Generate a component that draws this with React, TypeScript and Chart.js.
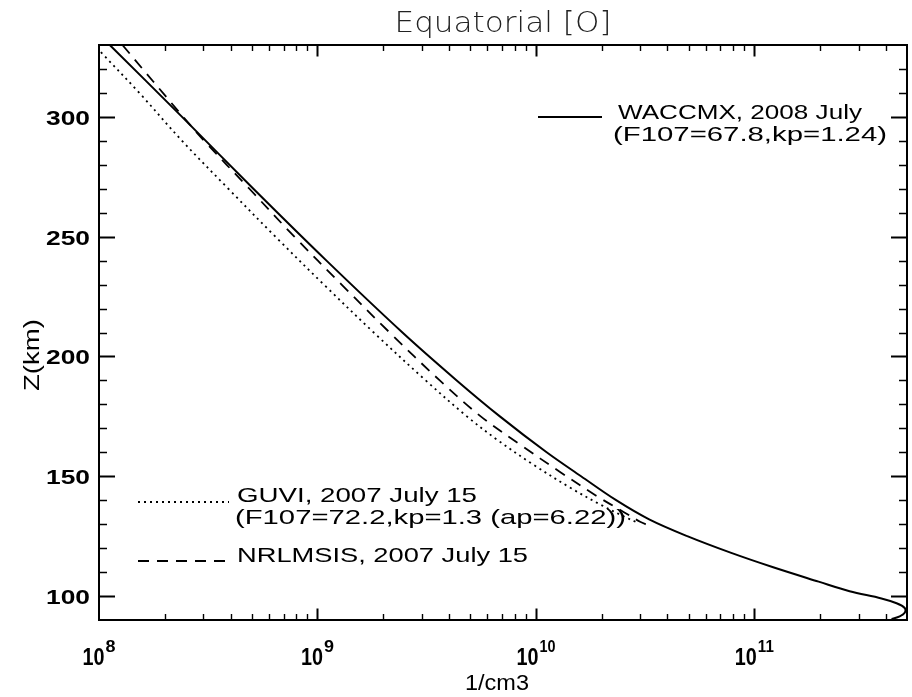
import React, { useEffect, useRef } from "react";
import { Chart, registerables } from "chart.js";

Chart.register(...registerables);

// ---- Data (altitude km, O density 1/cm3) ----
const waccmxAlt = [330, 300, 270, 240, 210, 190, 175, 160, 150, 140, 132, 125, 118, 112, 106, 102, 99, 97, 95, 93, 91.5, 90.4];
const waccmxDen = [1.12e8, 2.4e8, 5.09e8, 1.1e9, 2.45e9, 4.34e9, 6.84e9, 1.12e10, 1.61e10, 2.33e10, 3.3e10, 4.93e10, 7.84e10, 1.22e11, 1.97e11, 2.73e11, 3.82e11, 4.48e11, 4.88e11, 4.88e11, 4.63e11, 4.25e11];

const nrlmsisAlt = [330, 300, 290, 270, 250, 230, 210, 190, 175, 163, 152, 142, 135, 131, 129.5];
const nrlmsisDen = [1.28e8, 2.43e8, 3.03e8, 4.88e8, 7.84e8, 1.29e9, 2.14e9, 3.63e9, 5.59e9, 8.53e9, 1.28e10, 1.88e10, 2.53e10, 3.0e10, 3.27e10];

const guviAlt = [327, 310, 290, 270, 250, 230, 210, 190, 175, 165, 155, 145, 138, 133, 130.5];
const guviDen = [1.02e8, 1.53e8, 2.4e8, 3.91e8, 6.42e8, 1.07e9, 1.81e9, 3.13e9, 4.83e9, 6.7e9, 9.68e9, 1.45e10, 1.99e10, 2.56e10, 2.94e10];

const yMajorTicks = [100, 150, 200, 250, 300];
const xDecadeExponents = [8, 9, 10, 11];

const titleText = "Equatorial [O]";
const xTitle = "1/cm3";
const yTitle = "Z(km)";
const legendWaccmx = ["WACCMX, 2008 July", "(F107=67.8,kp=1.24)"];
const legendGuvi = ["GUVI, 2007 July 15", "(F107=72.2,kp=1.3 (ap=6.22))"];
const legendNrl = ["NRLMSIS, 2007 July 15"];

const toPoints = (alt: number[], den: number[]) => alt.map((z, i) => ({ x: den[i], y: z }));

function fitText(ctx: CanvasRenderingContext2D, text: string, x: number, y: number, w: number, font: string, align: "left" | "center" | "right" = "left") {
  ctx.save();
  ctx.font = font;
  const m = ctx.measureText(text).width;
  const s = w / m;
  ctx.translate(x, y);
  ctx.scale(s, 1);
  ctx.textAlign = align;
  ctx.textBaseline = "alphabetic";
  ctx.fillText(text, 0, 0);
  ctx.restore();
}

const framePlugin = {
  id: "idlFrame",
  afterDatasetsDraw(chart: any) {
    const ctx: CanvasRenderingContext2D = chart.ctx;
    const xs = chart.scales.x;
    const ys = chart.scales.y;
    const { left, right, top, bottom } = chart.chartArea;
    ctx.save();
    ctx.strokeStyle = "#000";
    ctx.fillStyle = "#000";
    ctx.setLineDash([]);
    ctx.lineWidth = 2;
    ctx.strokeRect(left, top, right - left, bottom - top);

    const xMaj = 11.5, xMin = 6, yMaj = 16, yMin = 8;
    for (const e of xDecadeExponents) {
      for (let k = 1; k <= 9; k++) {
        const v = k * Math.pow(10, e);
        if (v <= xs.min || v >= xs.max) continue;
        const px = Math.round(xs.getPixelForValue(v)) + 0.5;
        const len = k === 1 ? xMaj : xMin;
        ctx.lineWidth = k === 1 ? 2 : 1.4;
        ctx.beginPath();
        ctx.moveTo(px, bottom);
        ctx.lineTo(px, bottom - len);
        ctx.moveTo(px, top);
        ctx.lineTo(px, top + len);
        ctx.stroke();
      }
    }
    for (let v = 100; v <= 320; v += 10) {
      const py = Math.round(ys.getPixelForValue(v)) + 0.5;
      const major = v % 50 === 0;
      const len = major ? yMaj : yMin;
      ctx.lineWidth = major ? 2 : 1.4;
      ctx.beginPath();
      ctx.moveTo(left, py);
      ctx.lineTo(left + len, py);
      ctx.moveTo(right, py);
      ctx.lineTo(right - len, py);
      ctx.stroke();
    }

    for (const v of yMajorTicks) {
      const py = ys.getPixelForValue(v);
      fitText(ctx, String(v), 90, py + 8, 44, "bold 21px 'Liberation Sans'", "right");
    }
    for (const e of xDecadeExponents) {
      const px = xs.getPixelForValue(Math.pow(10, e));
      const sup = String(e);
      const supW = sup.length === 1 ? 10 : 16;
      const baseW = 22;
      const total = baseW + supW + 1;
      const x0 = px - total / 2;
      fitText(ctx, "10", x0, 665, baseW, "bold 23px 'Liberation Sans'", "left");
      fitText(ctx, sup, x0 + baseW + 1, 652, supW, "bold 16px 'Liberation Sans'", "left");
    }

    fitText(ctx, xTitle, 497, 690, 64, "22px 'Liberation Sans'", "center");
    ctx.save();
    ctx.translate(39, 355);
    ctx.rotate(-Math.PI / 2);
    fitText(ctx, yTitle, 0, 0, 72, "22px 'Liberation Sans'", "center");
    ctx.restore();

    ctx.fillStyle = "#222";
    fitText(ctx, titleText, 503, 32, 217, "300 28px 'DejaVu Sans'", "center");
    ctx.fillStyle = "#000";

    const legFont = "21px 'Liberation Sans'";
    ctx.lineWidth = 2;
    ctx.setLineDash([]);
    ctx.beginPath();
    ctx.moveTo(538, 117);
    ctx.lineTo(602, 117);
    ctx.stroke();
    fitText(ctx, legendWaccmx[0], 618, 119, 244, legFont);
    fitText(ctx, legendWaccmx[1], 613, 141, 274, legFont);

    ctx.lineWidth = 1.8;
    ctx.setLineDash([2, 4]);
    ctx.beginPath();
    ctx.moveTo(138, 502);
    ctx.lineTo(229, 502);
    ctx.stroke();
    fitText(ctx, legendGuvi[0], 237, 502, 240, legFont);
    fitText(ctx, legendGuvi[1], 235, 524, 391, legFont);

    ctx.setLineDash([11, 8]);
    ctx.beginPath();
    ctx.moveTo(138, 561);
    ctx.lineTo(233, 561);
    ctx.stroke();
    ctx.setLineDash([]);
    fitText(ctx, legendNrl[0], 237, 562, 291, legFont);

    ctx.restore();
  },
};

export default function App() {
  const canvasRef = useRef<HTMLCanvasElement | null>(null);
  useEffect(() => {
    if (!canvasRef.current) return;
    const chart = new Chart(canvasRef.current, {
      type: "line",
      data: {
        datasets: [
          {
            label: "WACCMX",
            data: toPoints(waccmxAlt, waccmxDen),
            borderColor: "#000",
            borderWidth: 2,
            pointRadius: 0,
            tension: 0.35,
            fill: false,
          },
          {
            label: "NRLMSIS",
            data: toPoints(nrlmsisAlt, nrlmsisDen),
            borderColor: "#000",
            borderWidth: 1.8,
            borderDash: [11, 8],
            pointRadius: 0,
            tension: 0.35,
            fill: false,
          },
          {
            label: "GUVI",
            data: toPoints(guviAlt, guviDen),
            borderColor: "#000",
            borderWidth: 1.8,
            borderDash: [2, 4],
            pointRadius: 0,
            tension: 0.35,
            fill: false,
          },
        ],
      },
      options: {
        responsive: false,
        animation: false,
        layout: { padding: { left: 99, right: 5, top: 45, bottom: 77 } },
        plugins: { legend: { display: false }, title: { display: false }, tooltip: { enabled: false } },
        scales: {
          x: { type: "logarithmic", min: 1e8, max: 5e11, display: false },
          y: { type: "linear", min: 90, max: 330, display: false },
        },
      },
      plugins: [framePlugin],
    });
    return () => chart.destroy();
  }, []);
  return (
    <div style={{ position: "fixed", left: 0, top: 0, width: 912, height: 697, background: "#fff" }}>
      <canvas ref={canvasRef} width={912} height={697} />
    </div>
  );
}
